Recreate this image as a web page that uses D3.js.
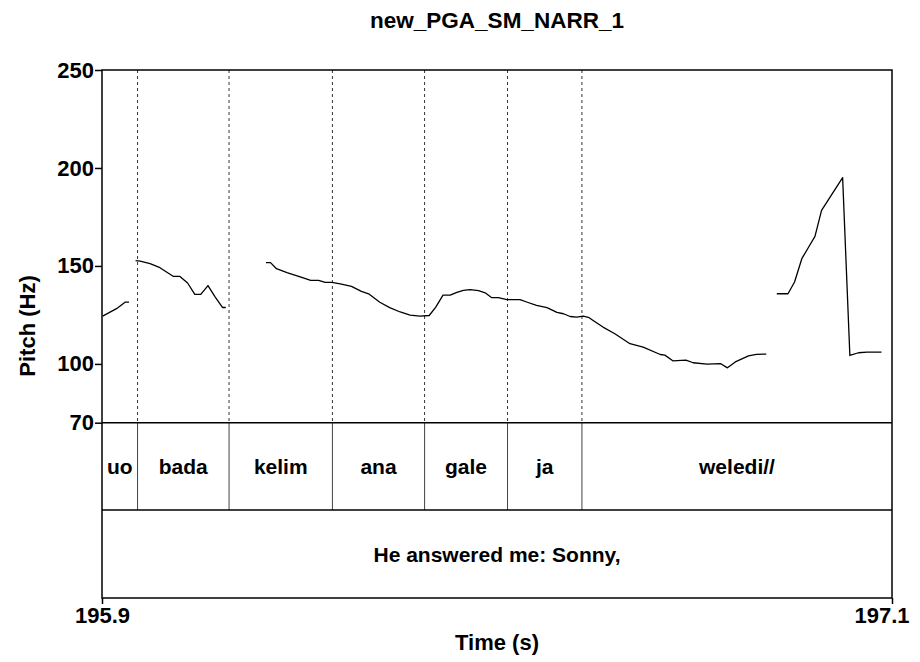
<!DOCTYPE html>
<html>
<head>
<meta charset="utf-8">
<script src="https://cdn.jsdelivr.net/npm/d3@7"></script>
<style>
  html, body { margin: 0; padding: 0; background: #fff; }
  svg { display: block; }
  text { font-family: "Liberation Sans", Arial, Helvetica, sans-serif; font-weight: bold; fill: #000; }
</style>
</head>
<body>
<svg id="chart" width="920" height="662"></svg>
<script>
// ---------------- data ----------------
const chartTitle = "new_PGA_SM_NARR_1";
const timeDomain = [195.9, 197.1];
const pitchDomain = [70, 250];
const pitchTicks = [70, 100, 150, 200, 250];
const timeTicks = [195.9, 197.1];

// pitch track: null marks an unvoiced gap
const pitchTime = [
  195.901, 195.922, 195.935, 195.941, null,
  195.951, 195.958, 195.973, 195.988, 196.008, 196.018, 196.030, 196.041, 196.050, 196.061, 196.072, 196.083, 196.088, null,
  196.149, 196.156, 196.165, 196.181, 196.201, 196.217, 196.229, 196.239, 196.249, 196.262, 196.279, 196.294, 196.305,
  196.322, 196.337, 196.353, 196.368, 196.383, 196.397, 196.407, 196.418, 196.429, 196.439, 196.449, 196.459, 196.472,
  196.482, 196.492, 196.502, 196.515, 196.535, 196.545, 196.560, 196.576, 196.591, 196.601, 196.611, 196.621, 196.631,
  196.640, 196.646, 196.661, 196.679, 196.702, 196.722, 196.748, 196.755, 196.767, 196.787, 196.798, 196.819, 196.840,
  196.850, 196.862, 196.882, 196.894, 196.909, null,
  196.925, 196.942, 196.952, 196.963, 196.973, 196.983, 196.993, 197.025, 197.036, 197.049, 197.062, 197.084
];
const pitchHz = [
  124.4, 128.2, 131.5, 131.5, null,
  152.7, 152.5, 151.2, 149.1, 144.7, 144.7, 141.3, 135.5, 135.5, 140.0, 134.1, 128.8, 128.8, null,
  151.7, 151.7, 148.6, 146.6, 144.4, 142.6, 142.6, 141.6, 141.6, 140.9, 139.6, 137.0, 135.8,
  131.5, 128.7, 126.5, 124.9, 124.4, 124.7, 129.0, 135.1, 135.1, 136.5, 137.5, 137.9, 137.4,
  136.3, 133.8, 133.8, 132.8, 132.8, 131.6, 129.9, 128.7, 126.3, 125.6, 124.2, 123.9, 124.4,
  123.6, 122.2, 118.8, 115.4, 110.3, 108.6, 104.8, 104.5, 101.6, 101.9, 100.6, 99.9, 100.1,
  98.0, 101.0, 104.1, 104.9, 105.0, null,
  135.8, 135.8, 141.8, 153.7, 159.4, 165.1, 178.4, 195.1, 104.3, 105.7, 106.0, 106.0
];

// word tier
const wordLabels = ["uo", "bada", "kelim", "ana", "gale", "ja", "weledi//"];
const wordBounds = [195.9, 195.954, 196.093, 196.250, 196.390, 196.516, 196.629, 197.1];
// sentence tier
const phraseLabels = ["He answered me: Sonny,"];
const phraseBounds = [195.9, 197.1];

// ---------------- layout ----------------
const svg = d3.select("#chart");
const pL = 102, pR = 892;
const pT = 70, pitchBottom = 422.7, tier1Bottom = 510, tier2Bottom = 598;
const fsAxis = 22, fsTier = 21;

const x = d3.scaleLinear().domain(timeDomain).range([pL, pR]);
const y = d3.scaleLinear().domain(pitchDomain).range([pitchBottom, pT]);

// title
svg.append("text")
  .attr("x", (pL + pR) / 2).attr("y", 28)
  .attr("text-anchor", "middle")
  .style("font-size", "22.5px")
  .text(chartTitle);

// dotted boundary lines in pitch area
const inner = wordBounds.slice(1, -1);
svg.append("g").selectAll("line").data(inner).join("line")
  .attr("x1", d => x(d)).attr("x2", d => x(d))
  .attr("y1", pT).attr("y2", pitchBottom)
  .attr("stroke", "#333").attr("stroke-width", 1)
  .attr("stroke-dasharray", "3,3");

// solid boundaries in word tier
svg.append("g").selectAll("line").data(inner).join("line")
  .attr("x1", d => x(d)).attr("x2", d => x(d))
  .attr("y1", pitchBottom).attr("y2", tier1Bottom)
  .attr("stroke", "#444").attr("stroke-width", 1);

// word labels
svg.append("g").selectAll("text").data(wordLabels).join("text")
  .attr("x", (d, i) => (x(wordBounds[i]) + x(wordBounds[i + 1])) / 2)
  .attr("y", (pitchBottom + tier1Bottom) / 2)
  .attr("dy", "0.36em")
  .attr("text-anchor", "middle")
  .style("font-size", fsTier + "px")
  .text(d => d);

// phrase labels
svg.append("g").selectAll("text").data(phraseLabels).join("text")
  .attr("x", (d, i) => (x(phraseBounds[i]) + x(phraseBounds[i + 1])) / 2)
  .attr("y", (tier1Bottom + tier2Bottom) / 2)
  .attr("dy", "0.36em")
  .attr("text-anchor", "middle")
  .style("font-size", fsTier + "px")
  .text(d => d);

// pitch line
const pts = pitchTime.map((t, i) => ({ t: t, v: pitchHz[i] }));
const line = d3.line()
  .defined(d => d.t !== null && d.v !== null)
  .x(d => x(d.t)).y(d => y(d.v));
svg.append("path").datum(pts)
  .attr("d", line)
  .attr("fill", "none").attr("stroke", "#000").attr("stroke-width", 1.3)
  .attr("stroke-linejoin", "round");

// frame and tier separators
const frame = svg.append("g").attr("stroke", "#000").attr("stroke-width", 1.5).attr("fill", "none");
frame.append("rect").attr("x", pL).attr("y", pT).attr("width", pR - pL).attr("height", tier2Bottom - pT);
[pitchBottom, tier1Bottom].forEach(yy => {
  frame.append("line").attr("x1", pL).attr("x2", pR).attr("y1", yy).attr("y2", yy);
});

// y axis
const yAxis = d3.axisLeft(y).tickValues(pitchTicks).tickFormat(d3.format("d")).tickSize(7).tickPadding(1);
const gy = svg.append("g").attr("transform", `translate(${pL},0)`).call(yAxis);
gy.select(".domain").remove();
gy.selectAll(".tick line").attr("stroke", "#000").attr("stroke-width", 1.5);
gy.selectAll(".tick text").style("font-size", fsAxis + "px").style("font-family", "Liberation Sans, Arial, sans-serif").style("font-weight", "bold").attr("fill", "#000");

// x axis
const xAxis = d3.axisBottom(x).tickValues(timeTicks).tickFormat(d3.format(".1f")).tickSize(6).tickPadding(3);
const gx = svg.append("g").attr("transform", `translate(0,${tier2Bottom})`).call(xAxis);
gx.select(".domain").remove();
gx.selectAll(".tick line").attr("stroke", "#000").attr("stroke-width", 1.5);
gx.selectAll(".tick text").style("font-size", fsAxis + "px").style("font-family", "Liberation Sans, Arial, sans-serif").style("font-weight", "bold").attr("fill", "#000")
  .attr("text-anchor", (d, i) => i === timeTicks.length - 1 ? "end" : "middle")
  .attr("dx", (d, i) => i === timeTicks.length - 1 ? "17" : "0");

// axis titles
svg.append("text")
  .attr("x", (pL + pR) / 2).attr("y", 650)
  .attr("text-anchor", "middle")
  .style("font-size", fsAxis + "px")
  .text("Time (s)");
svg.append("text")
  .attr("transform", `translate(35,${(pT + tier2Bottom) / 2 - 8}) rotate(-90)`)
  .attr("text-anchor", "middle")
  .style("font-size", fsAxis + "px")
  .text("Pitch (Hz)");
</script>
</body>
</html>
